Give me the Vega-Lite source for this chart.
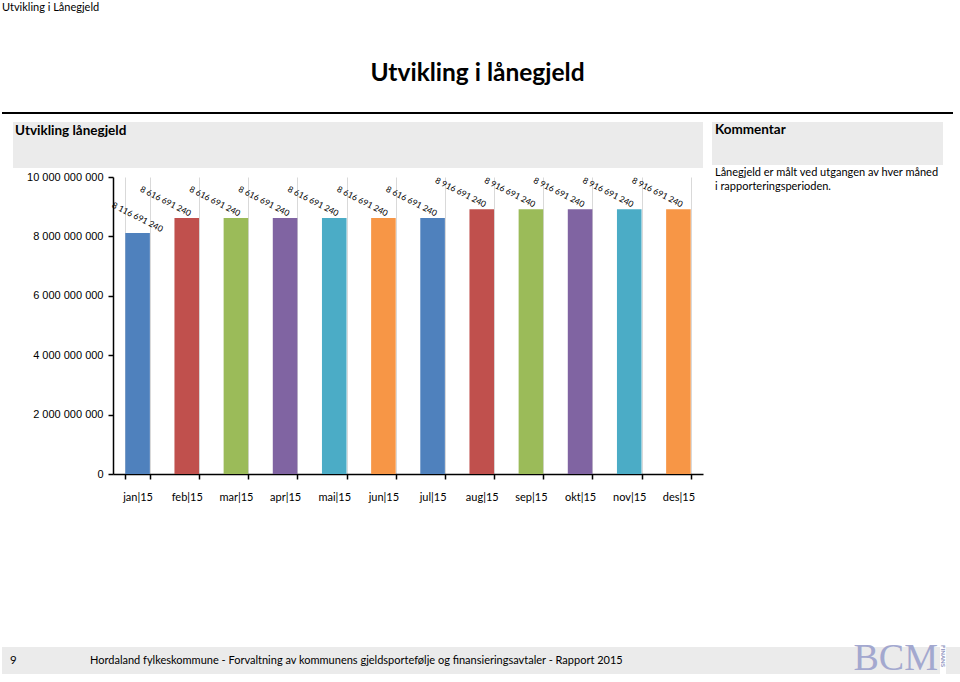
{
  "$schema": "https://vega.github.io/schema/vega-lite/v6.json",
  "background": "white",
  "padding": {"left": 2, "top": 1, "right": 0, "bottom": 0},
  "config": {
    "view": {"stroke": null},
    "font": "Lato",
    "locale": {"number": {"decimal": ",", "thousands": " ", "grouping": [3], "currency": ["", " kr"]}},
    "title": {"color": "#000", "font": "Lato"}
  },
  "title": {"text": "Utvikling i Lånegjeld", "anchor": "start", "fontSize": 11, "fontWeight": "normal", "offset": 48},
  "spacing": 8,
  "vconcat": [
    {
      "width": 951, "height": 2,
      "view": {"fill": "#000"},
      "title": {"text": "Utvikling i lånegjeld", "anchor": "middle", "fontSize": 24.5, "fontWeight": "bold", "offset": 26},
      "data": {"values": [{}]},
      "mark": {"type": "point", "size": 0, "opacity": 0},
      "encoding": {}
    },
    {
      "spacing": -2,
      "vconcat": [
        {
          "spacing": 9,
          "hconcat": [
            {"width": 2, "height": 1, "data": {"values": [{}]}, "mark": {"type": "point", "size": 0, "opacity": 0}, "encoding": {}},
            {
              "width": 690, "height": 46,
              "view": {"fill": "#ebebeb"},
              "title": {"text": "Utvikling lånegjeld", "anchor": "start", "fontSize": 13.5, "fontWeight": "bold", "offset": -15, "dx": 2},
              "data": {"values": [{}]}, "mark": {"type": "point", "size": 0, "opacity": 0}, "encoding": {}
            },
            {
              "width": 231, "height": 43,
              "view": {"fill": "#ebebeb"},
              "title": {"text": "Kommentar", "anchor": "start", "fontSize": 13.5, "fontWeight": "bold", "offset": -14, "dx": 3},
              "data": {"values": [{}]}, "mark": {"type": "point", "size": 0, "opacity": 0}, "encoding": {}
            }
          ]
        },
        {
          "spacing": 9,
          "hconcat": [
            {"width": 2, "height": 1, "data": {"values": [{}]}, "mark": {"type": "point", "size": 0, "opacity": 0}, "encoding": {}},
            {
              "width": 590, "height": 297,
              "data": {"values": [
                {"month": "jan|15", "value": 8116691240},
                {"month": "feb|15", "value": 8616691240},
                {"month": "mar|15", "value": 8616691240},
                {"month": "apr|15", "value": 8616691240},
                {"month": "mai|15", "value": 8616691240},
                {"month": "jun|15", "value": 8616691240},
                {"month": "jul|15", "value": 8616691240},
                {"month": "aug|15", "value": 8916691240},
                {"month": "sep|15", "value": 8916691240},
                {"month": "okt|15", "value": 8916691240},
                {"month": "nov|15", "value": 8916691240},
                {"month": "des|15", "value": 8916691240}
              ]},
              "encoding": {
                "x": {"field": "month", "type": "nominal", "sort": null,
                  "scale": {"paddingInner": 0.5, "paddingOuter": 0.25},
                  "axis": {"title": null, "labelAngle": 0, "tickBand": "extent", "grid": true, "gridColor": "#d9d9d9", "gridWidth": 1, "domainColor": "#000", "domainWidth": 1.5, "tickColor": "#000", "tickWidth": 1.5, "tickSize": 5, "labelPadding": 12, "labelFont": "Lato", "labelFontSize": 11, "labelColor": "#000"}},
                "y": {"field": "value", "type": "quantitative",
                  "scale": {"domain": [0, 10000000000], "nice": false},
                  "axis": {"title": null, "values": [0, 2000000000, 4000000000, 6000000000, 8000000000, 10000000000], "format": ",d", "grid": false, "domainColor": "#000", "domainWidth": 1.5, "tickColor": "#000", "tickWidth": 1.5, "tickSize": 5, "labelPadding": 5, "labelFont": "Liberation Sans", "labelFontSize": 11, "labelColor": "#000", "minExtent": 100}}
              },
              "layer": [
                {
                  "mark": {"type": "bar"},
                  "encoding": {
                    "color": {"field": "month", "type": "nominal", "sort": null, "legend": null,
                      "scale": {"domain": ["jan|15", "feb|15", "mar|15", "apr|15", "mai|15", "jun|15", "jul|15", "aug|15", "sep|15", "okt|15", "nov|15", "des|15"],
                        "range": ["#4F81BD", "#C0504D", "#9BBB59", "#8064A2", "#4BACC6", "#F79646", "#4F81BD", "#C0504D", "#9BBB59", "#8064A2", "#4BACC6", "#F79646"]}}
                  }
                },
                {
                  "transform": [{"filter": "datum.month == 'jan|15'"}],
                  "mark": {"type": "text", "angle": 27, "font": "Liberation Sans Narrow, Lato", "fontSize": 8.5, "color": "#000", "align": "center", "baseline": "middle", "yOffset": -16},
                  "encoding": {"text": {"field": "value", "type": "quantitative", "format": ",d"}}
                },
                {
                  "transform": [{"filter": "datum.month != 'jan|15'"}],
                  "mark": {"type": "text", "angle": 27, "font": "Liberation Sans Narrow, Lato", "fontSize": 8.5, "color": "#000", "align": "center", "baseline": "middle", "xOffset": -21, "yOffset": -17},
                  "encoding": {"text": {"field": "value", "type": "quantitative", "format": ",d"}}
                }
              ]
            },
            {
              "width": 231, "height": 455,
              "title": {"text": ["Lånegjeld er målt ved utgangen av hver måned", "i rapporteringsperioden."], "anchor": "start", "fontSize": 11, "fontWeight": "normal", "lineHeight": 14, "offset": -14.5, "dx": 3},
              "data": {"values": [{}]}, "mark": {"type": "point", "size": 0, "opacity": 0}, "encoding": {}
            }
          ]
        }
      ]
    },
    {
      "spacing": 0,
      "hconcat": [
        {
          "width": 88, "height": 27,
          "view": {"fill": "#ebebeb"},
          "title": {"text": "9", "anchor": "start", "fontSize": 11.5, "fontWeight": "normal", "offset": -19, "dx": 8},
          "data": {"values": [{}]}, "mark": {"type": "point", "size": 0, "opacity": 0}, "encoding": {}
        },
        {
          "width": 747, "height": 27,
          "view": {"fill": "#ebebeb"},
          "title": {"text": "Hordaland fylkeskommune - Forvaltning av kommunens gjeldsportefølje og finansieringsavtaler  - Rapport 2015", "anchor": "start", "fontSize": 11, "fontWeight": "normal", "offset": -19},
          "data": {"values": [{}]}, "mark": {"type": "point", "size": 0, "opacity": 0}, "encoding": {}
        },
        {
          "width": 103, "height": 27,
          "view": {"fill": "#ebebeb"},
          "title": {"text": "BCM", "anchor": "end", "font": "Liberation Serif", "fontSize": 38, "fontWeight": "normal", "color": "#a3a8cf", "offset": -31, "dx": -2},
          "data": {"values": [{}]}, "mark": {"type": "point", "size": 0, "opacity": 0}, "encoding": {}
        },
        {
          "width": 17, "height": 27,
          "view": {"fill": "#ebebeb"},
          "title": {"text": "FINANS", "anchor": "start", "angle": 90, "fontSize": 6, "fontWeight": "bold", "color": "#8a90bd", "offset": -20},
          "data": {"values": [{}]}, "mark": {"type": "point", "size": 0, "opacity": 0}, "encoding": {}
        }
      ]
    }
  ]
}
